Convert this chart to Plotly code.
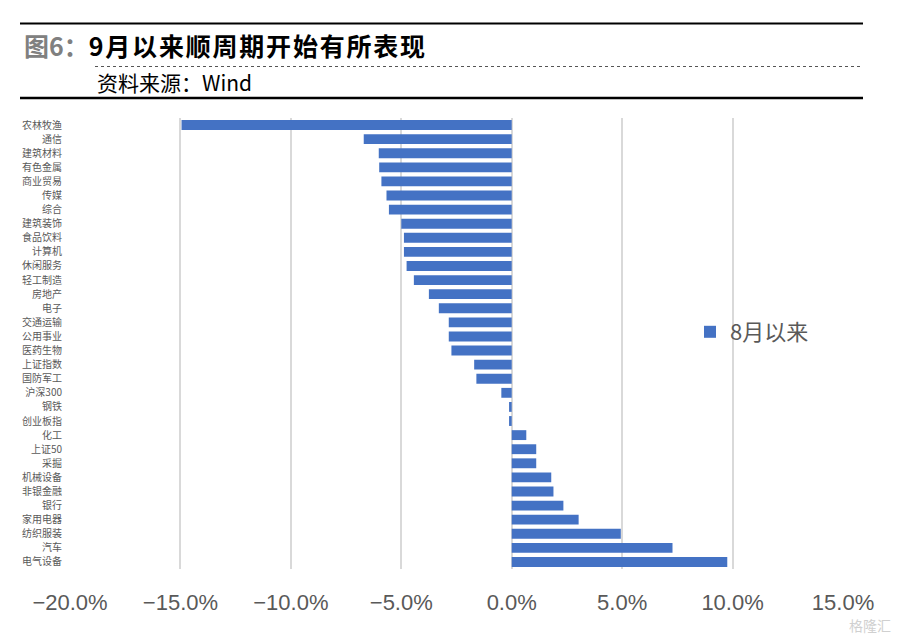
import plotly.graph_objects as go

categories = ["农林牧渔", "通信", "建筑材料", "有色金属", "商业贸易", "传媒", "综合", "建筑装饰",
              "食品饮料", "计算机", "休闲服务", "轻工制造", "房地产", "电子", "交通运输", "公用事业",
              "医药生物", "上证指数", "国防军工", "沪深300", "钢铁", "创业板指", "化工", "上证50",
              "采掘", "机械设备", "非银金融", "银行", "家用电器", "纺织服装", "汽车", "电气设备"]
values_pct = [-14.95, -6.70, -6.02, -6.00, -5.90, -5.67, -5.56, -5.00,
              -4.88, -4.88, -4.76, -4.43, -3.75, -3.30, -2.85, -2.85,
              -2.73, -1.70, -1.60, -0.47, -0.12, -0.12, 0.66, 1.11,
              1.11, 1.79, 1.89, 2.34, 3.03, 4.94, 7.28, 9.76]
series_name = "8月以来"
values = [v / 100 for v in values_pct]

title_prefix = "图6："
title_main = "9月以来顺周期开始有所表现"
source_text = "资料来源：Wind"

OFF = 8  # page body margin
W, H = 900 - OFF, 634 - OFF
# plot area in page pixels
PL, PR, PT, PB = 70, 843, 118, 569


def px(x):
    return (x - PL) / (PR - PL)


def py(y):
    return (PB - y) / (PB - PT)


fig = go.Figure()
fig.add_trace(go.Bar(
    x=values, y=categories, orientation="h", name=series_name,
    marker=dict(color="#4472C4", line=dict(width=0)),
    showlegend=True,
))

CJK = "Noto Sans CJK SC, Noto Sans, sans-serif"

fig.update_layout(
    width=W, height=H,
    margin=dict(l=PL - OFF, r=W - (PR - OFF), t=PT - OFF, b=H - (PB - OFF), pad=0),
    paper_bgcolor="white", plot_bgcolor="white",
    bargap=0.3,
    font=dict(family=CJK, color="#595959"),
    xaxis=dict(
        range=[-0.2, 0.15], dtick=0.05, tick0=0, tickformat=".1%",
        showgrid=True, gridcolor="#d9d9d9", gridwidth=1.5,
        zeroline=False, showline=False, ticks="",
        tickfont=dict(family="Liberation Sans, Arial, sans-serif", size=22, color="#595959"),
        ticklabelstandoff=18,
    ),
    yaxis=dict(
        autorange="reversed", showgrid=False, zeroline=False, showline=False, ticks="",
        tickfont=dict(family=CJK, size=10, color="#595959"),
        ticklabelstandoff=7,
    ),
    legend=dict(
        x=px(690), y=py(332), xanchor="left", yanchor="middle",
        bgcolor="rgba(0,0,0,0)", borderwidth=0,
        font=dict(family=CJK, size=22, color="#595959"),
        itemwidth=30,
    ),
    showlegend=True,
)

# Header lines
fig.add_shape(type="line", xref="paper", yref="paper", x0=px(20), x1=px(863), y0=py(23.5), y1=py(23.5),
              line=dict(color="black", width=2))
fig.add_shape(type="line", xref="paper", yref="paper", x0=px(95), x1=px(863), y0=py(66.5), y1=py(66.5),
              line=dict(color="#555555", width=1, dash="dot"))
fig.add_shape(type="line", xref="paper", yref="paper", x0=px(20), x1=px(863), y0=py(98), y1=py(98),
              line=dict(color="black", width=2.5))

fig.add_annotation(
    xref="paper", yref="paper", x=px(22), y=py(45), xanchor="left", yanchor="middle",
    text=(f"<b><span style='color:#808080'>{title_prefix}</span>"
          f"<span style='letter-spacing:1.8px'>{title_main}</span></b>"),
    showarrow=False, font=dict(family=CJK, size=25, color="black"),
)
fig.add_annotation(
    xref="paper", yref="paper", x=px(95), y=py(82), xanchor="left", yanchor="middle",
    text=source_text, showarrow=False, font=dict(family=CJK, size=21, color="black"),
)
# watermark
fig.add_annotation(
    xref="paper", yref="paper", x=px(893), y=py(625), xanchor="right", yanchor="middle",
    text="格隆汇", showarrow=False, font=dict(family=CJK, size=14, color="#d0d0d0"),
)

fig.write_html("out.html")
